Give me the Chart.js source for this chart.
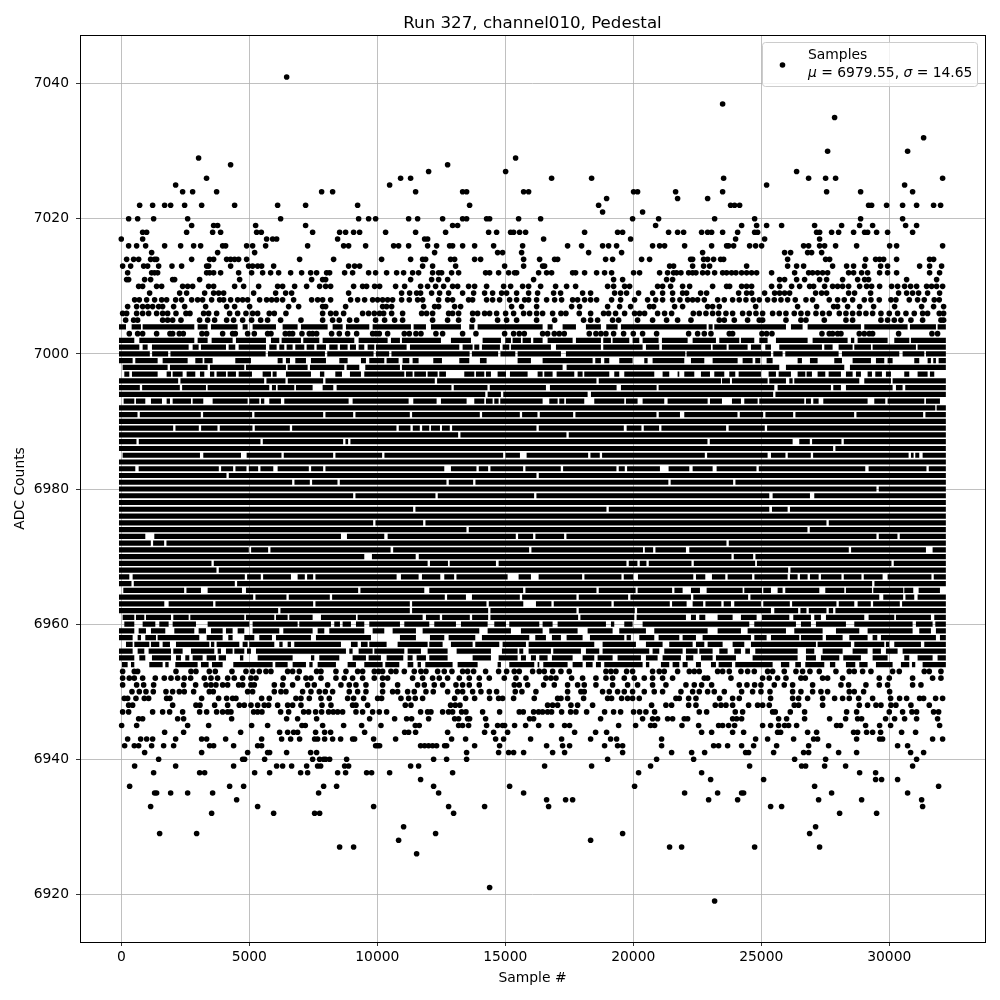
<!DOCTYPE html>
<html><head><meta charset="utf-8">
<style>html,body{margin:0;padding:0;background:#fff}canvas{display:block}</style>
<script src="https://cdn.jsdelivr.net/npm/chart.js@4"></script>
</head><body><canvas id="c" width="1000" height="1000"></canvas>
<script>
const titleText = "Run 327, channel010, Pedestal";
const xTitle = "Sample #";
const yTitle = "ADC Counts";
const xTicks = [0,5000,10000,15000,20000,25000,30000];
const yTicks = [6920,6940,6960,6980,7000,7020,7040];

// Individually read samples: ADC level -> sample numbers
const sampleLevels = [7041,7037,7035,7032,7030,7029,7028,7027,7026,7025,7024,7023,7022,7021,7020,7019,7018,7017,7016,7015,7014,7013,7012,7011,7010,7009,7008,7007,7006,7005,7003,
 6953,6952,6951,6950,6949,6948,6947,6946,6945,6944,6943,6942,6941,6940,6939,6938,6937,6936,6935,6934,6933,6932,6930,6929,6928,6927,6926,6921,6919];
const sampleNumbers = [
[6460],[23490],[27864],[31341],[27591,30716],[3020,15403],[4270,12747],[12005,15013,26380],
[3330,10911,11302,16809,18372,23529,26849,27513,27903,32083],[2123,10482,25208,30599],
[2396,2787,3724,7826,8255,11497,13333,13489,15716,15911,20012,20168,21653,23490,27552,28880,30911],
[18958,21731,22904],
[717,1224,1693,1928,2474,3139,4427,6107,7200,9232,13606,18645,23802,23958,24154,29192,29310,29895,30520,31067,31731,32005],
[18801,20364],
[287,639,1263,2592,6224,9271,9661,9935,11224,11575,12552,13333,13489,14270,14388,15520,16380,19973,20989,23177,24740,28880,30520],
[2748,3607,3763,5248,7200,12942,13138,20872,24232,24818,25208,25794,27083,28138,28841,29349,30638,31067],
[834,990,2552,3568,3880,5287,5469,7474,8529,8763,9075,9310,10325,11497,12669,14349,14661,15208,15325,15559,15794,18098,19387,19583,21379,21731,21966,22669,22904,23060,23490,24076,24740,24857,27161,27278,27747,28021,28606,29036,29154,29505,29934,30911],
[0,834,5677,5912,6068,8450,11849,11966,16497,19895,23997,25130,27278],
[287,599,951,1693,2318,2826,3099,3959,4076,4896,5130,5638,7279,8685,8880,9544,10638,10833,11224,11966,12317,12825,12942,13333,13802,14544,15677,17434,17981,18801,19036,19348,20754,21028,21223,22005,23060,23646,23724,23919,24544,24779,25013,26653,26849,27278,27474,27903,28724,30013,30286,32083],
[1185,3763,5209,12239,14700,14895,15637,18255,19543,22708,25911,26146,26810,26966,27357],
[209,482,678,1146,1302,1380,2748,3451,3607,4115,4271,4427,4583,4896,6966,8294,10169,11302,11771,11888,12864,13020,13802,14036,15716,16341,16927,17044,18919,19192,20325,20637,22240,22318,22747,22904,23138,23411,23529,26029,27513,27669,29075,29466,29622,29778,30286,31575,31731],
[53,365,873,1029,1459,1980,2357,3334,3412,4271,4974,5130,5326,5482,5951,8880,9114,9310,11771,12161,13060,14974,15716,16458,16536,21419,21575,22318,22747,22982,24427,26029,26380,26654,27786,28333,28606,29036,29661,29934,31185,31575,32044],
[248,1185,1302,1420,3334,3451,3607,3880,4583,5091,5521,5833,6146,6615,7044,7396,7630,8021,8138,8724,9036,9661,9935,10364,10755,11028,11380,11614,12161,12396,12513,12903,13177,14231,14388,14739,15130,15364,15442,16302,16614,16809,17630,17747,18098,18567,18879,19153,20012,20246,21028,21340,21575,21692,21862,22162,22318,22448,22708,22904,23177,23490,23646,23841,24010,24232,24427,24622,24818,25403,26302,26849,27005,27200,27396,27591,28411,28606,28919,29154,29622,29934,30286,31575,31965],
[209,287,912,1146,2006,2084,3060,4623,7435,7865,7982,11302,12122,12396,12747,16106,19231,19583,21301,21536,25716,25911,26380,26692,27278,27552,28177,28763,29036,29192,30677,31849],
[678,834,1380,1576,2396,2592,2787,3412,3607,4427,4779,5365,6107,6302,6771,7240,7748,7982,8177,9075,9427,9583,9896,10091,10716,11068,11692,11966,12278,12591,12942,13138,13567,13802,14270,14935,15208,15677,15911,16380,16966,17395,17747,18997,19231,19661,19856,20950,21145,21458,21927,22201,23099,23646,23763,24232,24427,24622,25403,25716,26185,26497,26888,27044,27474,27786,27981,28177,28411,28841,29114,29310,29622,30091,30325,30598,30833,31067,31458,31653,31849,32083],
[1107,2279,2552,3256,3607,3802,3998,5170,6029,6420,6654,8880,10950,11263,11536,11692,12122,12435,12786,13333,13763,14192,14505,14856,15052,15442,15911,16263,16887,17161,18020,18333,19270,19505,19739,20207,20755,21145,21536,21927,22083,22630,22865,24115,24427,24622,25130,25521,25716,25911,26107,27122,27357,27552,28411,28645,29271,30364,30677,30911,31146,31497,31965],
[521,704,990,1302,1576,1771,2123,2357,2748,2982,3177,3529,3841,3998,4271,4545,4740,4935,5404,5677,5873,6068,6302,6732,7435,7670,7865,8177,8958,9232,9505,9818,10013,10208,10403,10599,10950,11250,11575,11771,12396,12747,12942,13567,13724,14270,14505,14778,15169,15442,15755,15911,16224,16614,16927,17200,17630,17825,18098,18333,18567,19153,19505,20051,20559,20872,21145,21536,21823,22123,22318,22513,22774,23294,23555,23880,24140,24401,24687,24922,25247,25508,25768,26029,26328,26745,27005,27656,27981,28242,28568,29023,29284,29609,30065,30260,30781,31106,31367,31757,31953],
[248,599,834,1029,1224,1459,1615,2045,2474,3295,4115,4427,5013,6537,6927,7865,7982,8763,10208,10364,10560,11810,12239,12396,13020,13255,15247,15637,16224,17591,17903,18997,19466,19895,20637,20794,21614,21927,22904,23099,23359,24779,26419,27161,27825,27981,28372,28841,29388,30208,31263,31731,32122],
[53,209,599,834,1068,1380,1615,1810,2136,2526,2683,3216,3412,3724,4232,4545,4870,5130,5326,5781,5977,6432,7865,8177,8385,8685,9427,9661,9883,10091,10247,10560,10989,11732,11927,12161,12786,12942,13177,13724,13919,14192,14388,14661,15013,15325,15716,15950,16224,16458,16849,17174,17369,17890,18333,18840,19036,19309,19661,20051,20246,20442,20950,21223,21497,22344,22578,22839,23099,23333,23620,23880,24271,24531,24792,25052,25443,25703,25964,26289,26549,26810,27135,27396,27656,28047,28307,28568,28828,29088,29349,29674,30000,30325,30651,30976,31302,31497,31953,32122],
[170,482,638,1615,1810,2006,2331,3060,3373,3646,4115,4388,4740,5091,5443,5716,6224,7018,7865,8255,8515,8919,9193,9935,10286,10677,10989,12161,12747,13177,13724,14700,15052,15442,16224,16927,18059,18333,18606,19192,19427,20168,20754,21301,21731,22253,23359,23555,23945,24466,24922,25052,25964,26549,26745,27461,28307,28568,29674,29934,30195,30455,30846,31302,32018,32122],
[313,639,834,1380,1901,2006,2266,2422,3151,3334,3959,4349,4453,4935,5196,5716,5847,6406,6563,6693,7057,7344,7474,7630,8216,8516,8841,9193,9818,9948,10078,10404,11055,11250,11510,11706,12291,12552,13333,13854,14974,15325,15546,15742,16458,16653,16914,17109,17304,18281,18541,18736,18932,19231,19622,20000,20364,20911,22162,22513,22774,23034,23750,23880,25026,25208,25417,27370,27656,27786,27981,28112,28828,29023,29218,29349,30364,31666,31887],
[53,508,638,2136,2722,2917,3438,3672,4323,4870,5130,5391,5651,5847,6498,6693,6953,7630,7800,8385,8776,9232,9427,9883,10052,10208,10534,10729,11055,11445,11706,11901,12357,12617,12916,13333,13528,13763,14231,14739,15052,15351,15546,16067,16328,16523,16849,17174,17499,18932,19127,19322,19739,19973,20754,21015,21210,21731,22188,22383,22578,23294,23490,23750,24206,24466,24727,25247,25443,25898,26354,26614,26901,27266,27916,28437,28632,28958,29284,30130,30390,31367,31562,32018],
[53,313,508,834,1329,1680,1941,2201,2461,2709,3243,3503,3763,4154,4414,4740,5065,5261,6328,6888,7214,7409,7800,8385,8711,9036,9427,9883,10208,10404,11380,11771,12161,12422,12747,13203,13593,13984,14375,14961,15416,15807,16588,16783,16979,17591,18020,18541,18932,19192,19648,20039,20429,20754,21145,21536,22774,22904,23815,25052,25312,25638,25964,26549,26719,27396,27591,28177,29609,29999,30911,31692,32018],
[53,599,873,1263,2435,2904,3308,3503,3698,3959,4154,4584,4740,5065,5196,5977,6302,6693,7279,7539,8060,8580,8906,9167,9557,10208,10794,11575,11836,12226,12552,13073,13333,13593,13984,15351,15546,15872,16497,16914,17434,17825,18085,18541,19192,19778,20169,20754,21275,22057,22383,22669,23060,24140,24440,24740,24987,25508,25898,26224,27005,28112,28411,29088,29609,29934,30911,31237],
[417,704,964,1250,1745,2006,2266,2461,2826,3438,3594,4935,5130,5977,6237,6432,7083,7409,7734,7969,8255,8906,9232,9557,10208,10599,10794,11185,11445,11901,12187,12747,13138,13333,13724,14049,14375,14661,15390,15650,16197,17434,17955,18085,18801,19062,19387,19648,19973,20429,20819,21145,21862,22318,22578,22904,23164,23555,24232,24661,24987,25339,26224,26549,27005,27330,27591,28437,28632,28997,30013],
[118,248,573,899,1068,1771,1901,3138,3802,4115,4349,4479,5482,5781,6823,7018,7344,7800,8125,8841,9075,9466,10013,10169,10924,11224,11484,11771,13021,13450,13802,14388,14739,14895,15325,16132,17044,17174,17434,18059,18997,19153,19544,19778,19973,20234,21666,21797,22162,22448,23372,23880,24140,25364,26224,26458,26810,27396,27864,28177,28437,28802,29349,30052,30403,30677,31185,31341,31810,32083],
[287,443,2006,2917,3073,3646,4154,4610,4805,5065,5326,5586,5755,6107,6498,6693,7018,7839,8190,9036,9167,9622,11094,11315,12864,13047,13229,16653,16849,17044,17564,17825,18411,20715,21275,21497,22162,22448,23203,23425,23620,23880,24505,24857,25052,25312,26289,26458,27396,28828,29153,29479,29674,30065,30260,30846,31562],
[53,287,1224,1615,1888,2396,3060,3334,3724,3959,4154,4284,5169,5326,5495,6224,6537,7123,7318,7591,7826,8099,8281,8451,8646,9167,9427,9818,10078,10364,11692,11966,12096,12552,12786,12942,13294,13463,14114,14778,15546,15703,16106,16302,16458,16653,16809,17200,17552,17760,18177,18879,19231,19505,20012,20246,20494,20832,22578,22865,23984,24271,25443,25547,26133,26692,28333,28724,30000,30520,30885,31067,31731,31927],
[678,834,2201,2435,4310,6458,6888,7630,9700,10677,11146,11341,12005,13021,13177,13528,13606,14231,15950,16106,18723,20364,20754,20950,21340,21536,21992,22123,23880,24037,24232,25677,25989,26692,27669,28294,28763,28919,29856,30208,30598,31067,31887],
[14,600,2592,3412,5091,5716,7058,7188,7865,8685,9388,10143,11484,11640,13177,13333,13567,14270,14700,14895,14974,15364,15794,16302,16809,17317,17512,19427,20091,20676,20833,21901,22552,23333,23490,23724,23958,25052,25365,25677,25911,26068,26380,27943,28099,29075,29622,30052,31966],
[1693,2435,4662,6185,6498,6732,6888,7591,7943,8177,9505,11068,11224,11497,12747,14192,14544,15091,17708,18528,18958,22669,23060,23880,24310,25638,25755,26810,27161,28606,28763,29114,29349,29661,30481,31028],
[248,756,990,1224,2123,3138,3334,4076,5482,6263,6615,6966,7552,7669,7943,8255,8568,9036,9114,9857,10716,12903,13450,14622,14935,15989,17200,18333,19114,19348,21106,24779,25247,26263,27044,27200,28724,29622,29739,31692,32083],
[131,508,678,1185,1654,2045,3451,3607,4388,5326,5482,9935,10013,10091,11692,11849,12005,12161,12317,12630,12708,13802,14778,16614,17239,17512,18879,19387,19583,21106,23138,23333,23685,24232,24700,25599,26849,27630,30325,30716],
[912,3138,4935,5716,5794,6458,7396,7630,13489,14739,15130,15325,15716,16849,17317,19583,21497,22279,22787,24388,24505,25482,26653,26849,28021,28724,30833,31341],
[1459,4740,4818,5599,7474,7748,7904,7982,8138,8802,12200,12708,13489,18997,20911,22357,26302,27513,31067],
[521,2123,4388,6068,6302,6654,7240,7669,7787,8724,8880,11302,11614,16536,18372,20676,24544,26575,26732,27474,28294,30911],
[1263,3060,3256,5209,5794,7005,7279,8451,8763,9583,9778,10482,12942,20207,22669,28841,29466],
[11692,23021,25091,29466,29700,30325],
[326,4232,4779,7904,8411,12200,15169,20051,27083,31927],
[1302,1380,1928,2592,3568,7708,12396,15716,22005,23294,24232,24310,27747,30716],
[4506,16614,17356,17630,22943,24076,27239,28919,31263],
[1146,5326,9857,12786,14192,16692,25365,25794,31302],
[3529,5951,7552,7748,12981,28060,29505],
[11028,27122],[1498,2943,12278,19583,26888],[10833,18333],[8529,9075,21418,21888,24740,27278],[11536],[14388],[23177]
];

// Saturated ADC rows, too overlapped to separate into samples: level -> white breaks
const denseLevels = [7004,7002,7001,7000,6999,6998,6997,6996,6995,6994,6993,6992,6991,6990,6989,6988,6987,6986,6985,6984,6983,6982,6981,6980,6979,6978,6977,6976,6975,6974,6973,6972,6971,6970,6969,6968,6967,6966,6965,6964,6963,6962,6961,6960,6959,6958,6957,6956,6955,6954];
const denseBreaks = [
[[183,404],[769,834],[2852,2982],[3373,3503],[4545,4740],[4935,5130],[6042,6302],[6888,7018],[8060,8255],[8646,8776],[9687,9818],[11315,11419],[11901,12096],[13268,13593],[13789,13919],[16458,16653],[16849,17239],[17760,18150],[18736,18944],[19387,19518],[22865,22943],[23099,23164],[25964,26159],[26614,26810],[28893,29023],[30716,30807],[31823,31888]],
[[508,704],[2852,2982],[3373,3529],[4349,4479],[5651,5847],[6172,6263],[7018,7109],[7734,7865],[9102,9271],[10404,10534],[10885,10963],[12487,12877],[13659,14114],[14830,15000],[15221,15286],[15612,15677],[16002,16093],[16458,16653],[17630,17760],[18736,18827],[19127,19192],[19843,19973],[20234,20364],[20989,21119],[22123,22318],[23229,23359],[24140,24206],[24726,24922],[25247,25573],[26810,27005],[28372,28502],[28633,28763],[29934,30195],[30781,30846]],
[[704,834],[1029,1198],[2631,2787],[3021,3112],[4089,4193],[4453,4584],[5651,5781],[6068,6172],[6367,6458],[6693,6797],[7149,7240],[7539,7630],[7995,8125],[8451,8542],[8841,8932],[9167,9271],[9492,9622],[9883,9948],[11146,11276],[13203,13333],[13724,13789],[13984,14088],[14791,14895],[15156,15221],[16783,16979],[18736,18827],[20364,20494],[21015,21119],[23034,23099],[23646,23724],[24466,24596],[24987,25156],[25378,25703],[27370,27461],[27786,28021],[28568,28633],[29284,29349],[31041,31106]],
[1159,1875,5684,8000,9900,10508,13650,14765,[15390,15482],[17174,17369],[22031,22083],[25378,25469],[25833,25937],[28021,28151],[30390,30521],[31367,31432]],
[[443,547],[1420,1615],[2592,2891],[3177,3243],[3568,4453],[5065,6107],[6302,6432],[6589,6797],[7214,7409],[7995,8516],[8841,9362],[9557,9687],[10273,10364],[10833,10989],[11250,11380],[11614,12187],[12526,13203],[13593,14010],[14270,15481],[16002,16458],[18411,18515],[18736,18866],[19062,19452],[19973,20429],[20559,20754],[21992,22253],[22774,23099],[24076,24271],[24661,24765],[24961,25208],[25443,26419],[26588,26901],[27200,27851],[28151,28567],[29284,29479],[29804,29934],[30130,30976],[31171,31497],[31627,31718],[31822,31927]],
[[-90,53],[1810,1901],[3373,3464],[4805,4870],[6432,6497],[7279,7370],[8711,8802],[9297,9531],[10885,10963],[17239,17395],[25703,25963],[28242,28463]],
[[-90,118],[313,417],[1420,1771],[1941,2006],[2396,2552],[2891,3073],[3243,3464],[3633,3724],[4089,4154],[4479,4584],[5104,5521],[5847,5912],[6068,6432],[7409,7760],[7930,8360],[8620,8932],[9362,9492],[11055,11120],[11380,11445],[11901,11966],[12357,12422],[12682,13398],[13789,13854],[14179,14245],[14440,14700],[15026,15182],[15872,16263],[16458,16523],[16848,17005],[17695,17825],[18020,18085],[19062,19257],[19452,19648],[20820,21145],[21405,21731],[21797,21992],[22383,22643],[22995,23164],[23555,23750],[23984,24115],[24987,25286],[25573,25677],[26159,26419],[26719,26771],[26979,27200],[27500,27630],[28112,28307],[28568,28698],[28893,29153],[29323,29453],[29713,29869],[30065,30585],[30781,31106],[31497,31588],[31757,32300]],
[2266,5625,6458,7930,12291,18606,[23425,23464],[23776,23854],[25247,25312],[25964,26094],[26224,26289],[28828,29023],[30065,30130]],
[769,2331,[3308,3373],[5781,5885],[6042,6107],[6758,6823],[7474,7865],[8281,8411],12942,14349,[16588,16744],[19348,19518],[20911,20989],[25508,25638],[27721,27812],[28112,28307],[30130,30260],[30520,30624]],
[[14218,14310],[14830,14921],[18216,18346],25508],
[[-90,92],[508,573],[938,1159],[1589,1771],[1901,2006],[2722,2787],[3203,3568],[4935,5000],[5391,5456],[5586,5781],[6237,6367],[8880,9036],[11224,11406],[12317,12487],[13489,13789],[14179,14245],[14505,14570],[14739,14804],[16458,16718],[17044,17109],[17304,17369],[18085,18476],[19648,19713],[20168,20364],[21210,21340],[22904,22995],[23464,23854],[24206,24336],[24857,24922],[26679,26745],[26940,27031],[27240,27422],[29153,29414],[29843,29934],[31367,31432],[31979,32300]],
[[31797,31849]],
[678,3151,5156,7930,9102,11315,14049,15612,16302,17695,20950,[21823,21992],24115,25117,26289,28672,31367],
[],
[2071,3073,3802,5169,6628,10794,11341,11706,[12031,12096],[12448,12526],12877,16263,[19630,19740],20364,21054,[23626,23725],25182],
[13203,17434],
[638,5482,8711,8906,22943,[26224,26484],26940,28177],
[27851],
[[-90,53],[3073,3203],[4675,4896],6302,8320,10234,14961,[15572,15833],18281,18736,22839,[25247,25378],25989,26979,[30755,30846],[30950,31015],[31171,31302]],
[],
[[547,678],3854,4414,4935,5391,[5938,6107],7370,7930,[12617,12877],13919,14375,15742,17213,19387,19713,[21041,21379],[22188,22318],[23099,23255],24857,[29062,29192],31497],
[4154,16263],
[6719,7409,8490,12747,13789,21415,23945],
[29544],
[9102,12317,16171,[25312,25443],[26901,27070]],
[],
[11445,18997,[25312,25417],[26029,26120]],
[],
[9883,11836,27591],
[13528,26849],
[[938,1290],[8581,8815],[10273,10404],15455,16132,17343,29544,30364],
[1198,1719,23685],
[5026,5781,[10520,10620],15976,[20380,20450],20820,[22057,22188],28463,[31432,31692]],
[[9492,9791],[11500,11620],23880,24727],
[3568,[11966,12057],[12760,12830],[14635,14739],19778,20207,20559,22318,[24760,24830],30130],
[3763,26094],
[[313,443],4870,5495,[6627,6888],7214,7539,[10755,10924],[11614,11745],[12461,12617],13047,[15091,15520],[16002,16302],18046,19583,[20000,20182],[22344,22448],[22813,23073],[23594,23685],24687,[26029,26120],[26419,26510],[26810,26901],[27240,27330],28177,28958,[29739,29934],31692],
[443,4479,29375],
[[-90,79],2500,[3112,3373],[4714,4870],9297,[11836,12031],15742,18606,[20090,20170],21562,[21927,22253],[22604,22865],[24271,24336],[25026,25078],[25378,25638],[25833,25937],[27266,27500],[28242,28307],[29323,29375],[30546,30586],[30937,31146],[31979,32300]],
[5196,6497,8190,12682,[13463,13698],15612,17825,19843,[22253,22344],24531,[29609,29765],30586,[30976,31106]],
[[1680,1849],3633,7539,11315,14310,[15703,16198],16848,19192,21470,[22083,22318],22774,[23440,23530],[23815,23945],[24987,25078],26159,27981,[28633,28763],29323,30455],
[6172,11315,14375,17825,20103,[25378,25508],26484,26810,27591,27851],
[[-90,53],[508,573],[899,964],[1941,2032],[2631,2696],[4805,4870],[5977,6042],[6498,6563],[7474,7800],[9167,9232],[11771,11901],12487,13659,14375,17890,[20040,20130],[22057,22253],[22448,22578],[22813,23294],[23880,24206],[24818,25026],[26094,26250],[26940,27070],[27330,27526],[29023,29192],[30195,30260],[31627,31757]],
[[-90,118],[508,834],[1329,1485],[1849,2006],[2917,3373],[5000,5130],[6888,6953],[8190,8320],[8541,8646],[8971,9167],[9492,9687],[10885,11055],[12031,12226],[13073,13268],[14310,14570],[15026,15156],[16328,16458],[16848,17044],[18932,19127],[19257,19648],[19973,20364],[24531,24726],[26354,26549],[26940,27135],[28307,28633],[30911,31041],[31692,31797]],
[[508,678],[964,1159],[1719,2071],[2852,3021],[3308,3503],[3959,4089],[4349,4545],[4805,5130],[6172,6328],[7474,7670],[7930,8125],[9492,9818],[10273,10599],[11510,11771],[13984,14310],[15221,15611],[16458,16718],[17825,18216],[19192,19452],[20494,20820],[22904,23294],[24206,24466],[25964,26289],[27396,27917],[28828,29153],[30911,31171],[31627,31822]],
[[443,639],[769,938],[1355,1420],[3047,3334],[3959,4180],[4349,4805],[5196,5391],[5886,6042],[7409,7604],[9753,10078],[10078,10885],[11510,12057],[12617,12786],[13828,14088],[15937,16171],[16588,16822],[17174,17395],[18020,18307],[19648,19739],[19908,20234],[20820,20989],[21797,21927],[22448,22708],[24596,24727],[25208,25378],[26484,26549],[27396,27526],[28177,28438],[29153,29349],[29531,29674],[31822,31979]],
[[-90,183],[443,508],[1094,1159],[1485,1615],[1901,2136],[3438,3503],[3633,3724],[4610,4740],[4935,5000],[5977,6172],[6302,6498],[6628,6758],[8581,8971],[9232,9362],[9622,9687],[10364,10794],[11966,12031],[12552,12877],[13724,13828],[14765,14895],[15807,15911],[18476,18801],[20103,20494],[21145,21405],[22318,22448],[22774,22904],[23490,23880],[24336,24596],[27135,27200],[28502,28633],[29804,29869],[29999,30195],[31237,31367]],
[[443,639],[899,1068],[1941,2032],[2396,2722],[3633,3763],[3894,4089],[4349,4414],[4805,4909],[5065,5261],[8776,8906],[9036,9271],[9818,9883],[11055,11185],[11706,11966],[12747,13099],[14440,14869],[15481,15546],[15702,15911],[16783,16874],[17955,18150],[18671,18801],[20624,20754],[21015,21210],[21927,22057],[22513,22578],[23099,23359],[23685,23945],[24206,24375],[24557,24765],[26419,26745],[27070,27396],[28177,28567],[29153,29349],[29674,29869],[30325,30521]],
[[508,704],[938,1198],[1941,2136],[2331,2500],[2657,2787],[3177,3334],[3698,3802],[4089,4636],[4766,5326],[6693,7409],[7539,7734],[8516,9036],[9557,9661],[10143,10364],[11015,11185],[11380,11536],[11901,12031],[12747,13724],[14440,14739],[15481,15611],[15807,16002],[16198,16328],[16653,16822],[17630,18020],[18476,18606],[19192,19387],[20299,20494],[20950,21145],[21862,22057],[22344,22643],[23099,23229],[24010,24661],[26419,26745],[27135,27330],[28047,28203],[28893,29349],[29934,30585],[30781,31106],[31692,31887]],
[[-90,27],[248,378],[508,1094],[1615,1719],[1849,2110],[2982,3112],[3412,3542],[3959,4375],[5912,6016],[6498,6693],[7214,7344],[7474,7670],[8385,8841],[9167,9492],[10208,10312],[10859,11185],[11406,11575],[11706,11875],[12942,13138],[13919,14700],[14830,15156],[16132,16263],[16328,16484],[17434,17630],[18020,18150],[18411,18541],[18736,18866],[20364,20494],[20624,21080],[21405,21536],[21797,21927],[22123,22448],[22643,23034],[23229,23333],[23854,23984],[25443,25768],[26094,26328],[26549,26719],[27461,27682],[27890,28307],[28672,28828],[29153,29479],[30130,30455],[30781,30885],[31015,31302]]
];
const firstSample = -90, lastSample = 32210;
const legendLine1 = "Samples";
const legendLine2 = [["\u03BC","italic"],[" = 6979.55, ","normal"],["\u03C3","italic"],[" = 14.65","normal"]];

const points = [];
sampleLevels.forEach((lv,i)=>sampleNumbers[i].forEach(x=>points.push({x,y:lv})));
const rows = [];
denseLevels.forEach((lv,i)=>{
  const cuts = denseBreaks[i].map(g=>Array.isArray(g)?g:[g-45,g+45]).sort((a,b)=>a[0]-b[0]);
  let start = firstSample;
  for (const [a,b] of cuts){
    if (a>start){ rows.push({x:start,y:lv},{x:Math.min(a,lastSample),y:lv},{x:a,y:null}); }
    start = Math.max(start,b);
  }
  if (start<lastSample){ rows.push({x:start,y:lv},{x:lastSample,y:lv},{x:lastSample,y:null}); }
});

const FONT = '"DejaVu Sans"';
Chart.defaults.font.family = FONT;
Chart.defaults.color = '#000';
const frame = {id:'frame',
  afterDatasetsDraw(ch){
    const {ctx,chartArea:a}=ch; ctx.save();
    ctx.strokeStyle='#000'; ctx.lineWidth=1;
    ctx.strokeRect(Math.round(a.left)+.5,Math.round(a.top)+.5,Math.round(a.right-a.left),Math.round(a.bottom-a.top));
    const lx=762.5,ly=42.5,lw=215,lh=44;
    ctx.beginPath(); ctx.roundRect(lx,ly,lw,lh,3);
    ctx.fillStyle='rgba(255,255,255,0.8)'; ctx.fill();
    ctx.strokeStyle='#cccccc'; ctx.stroke();
    ctx.fillStyle='#000';
    ctx.beginPath(); ctx.arc(782.5,65,2.8,0,Math.PI*2); ctx.fill();
    ctx.textBaseline='alphabetic'; ctx.textAlign='left';
    ctx.font='13.89px '+FONT; ctx.fillText(legendLine1,808,59);
    let x=808;
    for(const [t,s] of legendLine2){ ctx.font=(s==='italic'?'italic ':'')+'13.89px '+FONT; ctx.fillText(t,x,77); x+=ctx.measureText(t).width; }
    ctx.restore();
  }};
new Chart(document.getElementById('c'),{
  type:'scatter',
  data:{datasets:[
    {label:'Samples',data:points,showLine:false,pointRadius:2.8,pointBorderWidth:0,pointBackgroundColor:'#000'},
    {label:'Saturated rows',data:rows,showLine:true,spanGaps:false,pointRadius:0,borderColor:'#000',borderWidth:5.2,borderCapStyle:'butt',tension:0}
  ]},
  options:{
    responsive:false,animation:false,events:[],
    layout:{autoPadding:false,padding:{left:0,right:15,top:0,bottom:0}},
    plugins:{legend:{display:false},tooltip:{enabled:false},
      title:{display:true,fullSize:false,text:titleText,color:'#000',font:{size:16.67,weight:'normal'},padding:{top:14,bottom:1}}},
    scales:{
      x:{type:'linear',min:-1613,max:33739,
        afterFit:s=>{s.height=58},
        afterBuildTicks:s=>{s.ticks=xTicks.map(v=>({value:v}))},
        grid:{color:'#b0b0b0',lineWidth:0.8,tickColor:'#000',tickLength:4,drawTicks:true},
        border:{display:false},
        ticks:{font:{size:13.89},color:'#000',maxRotation:0,padding:3,callback:v=>String(v)},
        title:{display:true,text:xTitle,color:'#000',font:{size:13.89},padding:{top:3,bottom:13}}},
      y:{type:'linear',min:6912.94,max:7047.21,
        afterFit:s=>{s.width=80},
        afterBuildTicks:s=>{s.ticks=yTicks.map(v=>({value:v}))},
        grid:{color:'#b0b0b0',lineWidth:0.8,tickColor:'#000',tickLength:4,drawTicks:true},
        border:{display:false},
        ticks:{font:{size:13.89},color:'#000',padding:7,callback:v=>String(v)},
        title:{display:true,text:yTitle,color:'#000',font:{size:13.89},padding:{top:12,bottom:0}}}
    }
  },
  plugins:[frame]
});
</script></body></html>
